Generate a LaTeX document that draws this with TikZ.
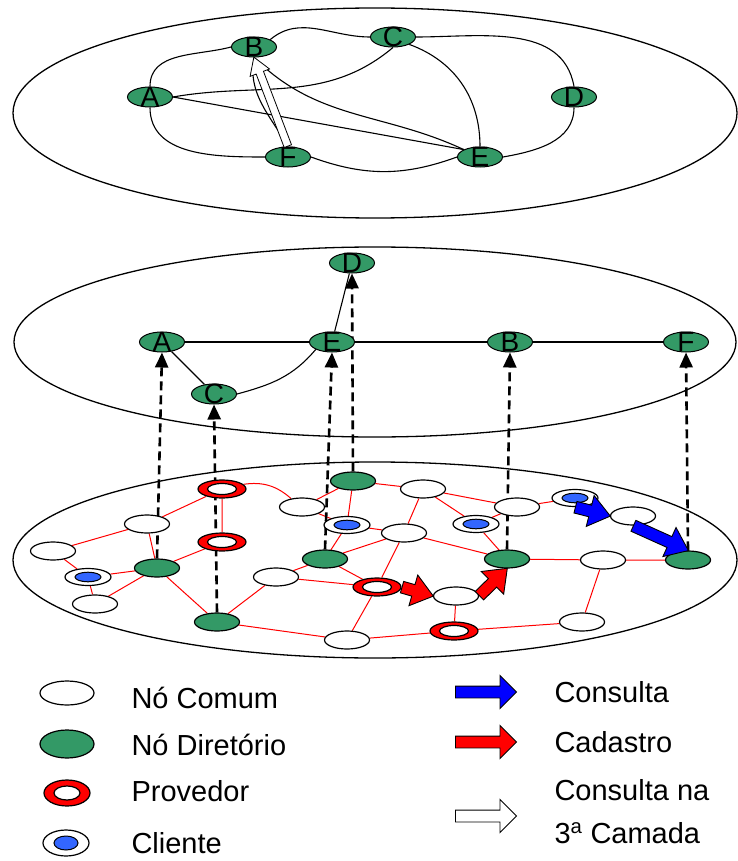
\documentclass[tikz,border=0pt]{standalone}
\usepackage{fontspec}
\setmainfont{Liberation Sans}
\usetikzlibrary{shapes.geometric,shapes.arrows,arrows.meta,calc,backgrounds}

\definecolor{dirgreen}{RGB}{51,153,102}
\definecolor{cliblue}{RGB}{51,102,255}

\newcommand{\lbl}[1]{\smash{\raisebox{-0.5\height}{#1}}}
% name, tail, tip, style
\newcommand{\blockarrow}[4]{%
  \path let \p1=($(#3)-(#2)$), \n1={atan2(\y1,\x1)}, \n2={veclen(\x1,\y1)} in
    node (#1) at (#2) [#4, anchor=tail, rotate=\n1, minimum height=\n2] {};}

\begin{document}
\begin{tikzpicture}[x=1pt, y=-1pt,
plane/.style = {draw, line width=1.3pt},
edge/.style = {line width=1.1pt},
link/.style = {red, line width=1pt},
up/.style = {line width=2.6pt, dash pattern=on 9pt off 5pt,
	-{Triangle[length=15pt,width=13pt]}},
dir/.style = {ellipse, draw, line width=1pt, fill=dirgreen,
	minimum width=45, minimum height=20, inner sep=0pt,
	font=\fontsize{28}{28}\selectfont},
common/.style = {ellipse, draw, line width=1.2pt, fill=white,
	minimum width=45, minimum height=18, inner sep=0pt},
dirnode/.style = {common, fill=dirgreen},
hole/.style = {path picture={\draw[fill=white, line width=1.2pt]
	(path picture bounding box.center) ellipse (#1);}},
dot/.style = {path picture={\draw[fill=cliblue, line width=1pt]
	(path picture bounding box.center) ellipse (#1);}},
provider/.style = {common, fill=red, minimum width=48, hole={14.5pt and 5.5pt}},
client/.style = {common, minimum width=46, minimum height=17, dot={13pt and 4.8pt}},
regarrow/.style = {single arrow, draw, line width=0.9pt, fill=red,
	inner sep=5.5pt, single arrow head extend=10pt, single arrow tip angle=75},
conarrow/.style = {regarrow, fill=blue},
thirdarrow/.style = {single arrow, draw, line width=0.8pt, fill=white,
	inner sep=3.5pt, single arrow head extend=6.5pt, single arrow tip angle=64},
keyarrow/.style = {single arrow, draw, line width=0.9pt,
	inner sep=5.5pt, single arrow head extend=10.5pt, single arrow tip angle=90},
keytext/.style = {anchor=base west, font=\fontsize{29}{35}\selectfont}]

\useasboundingbox (0,0) rectangle (738,861);

\draw[plane] (375,113) ellipse (362 and 105);
\node (tA) at (150,97) [dir] {\lbl{A}};
\node (tB) at (254,47) [dir] {\lbl{B}};
\node (tC) at (393,37) [dir] {\lbl{C}};
\node (tD) at (574,97) [dir] {\lbl{D}};
\node (tE) at (480,157) [dir] {\lbl{E}};
\node (tF) at (288,157) [dir] {\lbl{F}};

\draw[plane] (375,342) ellipse (361 and 95);
\node (mD) at (352,263) [dir] {\lbl{D}};
\node (mA) at (162,342) [dir] {\lbl{A}};
\node (mE) at (332,342) [dir] {\lbl{E}};
\node (mB) at (510,342) [dir] {\lbl{B}};
\node (mF) at (686,342) [dir] {\lbl{F}};
\node (mC) at (214,394) [dir] {\lbl{C}};

\draw[plane] (375,560) ellipse (362 and 98);
\node (c1) at (147,524) [common] {};
\node (c2) at (53,551) [common] {};
\node (c3) at (95,604) [common] {};
\node (c4) at (302,507) [common] {};
\node (c5) at (276,577) [common] {};
\node (c6) at (423,489) [common] {};
\node (c7) at (404,533) [common] {};
\node (c8) at (347,640) [common] {};
\node (c9) at (517,507) [common] {};
\node (c10) at (456,596) [common] {};
\node (c11) at (633,516) [common] {};
\node (c12) at (603,560) [common] {};
\node (c13) at (582,622) [common] {};
\node (d1) at (157,568) [dirnode] {};
\node (d2) at (217,622) [dirnode] {};
\node (d3) at (353,481) [dirnode] {};
\node (d4) at (325,559) [dirnode] {};
\node (d5) at (507,559) [dirnode] {};
\node (d6) at (688,560) [dirnode] {};
\node (p1) at (222,489) [provider] {};
\node (p2) at (222,542) [provider] {};
\node (p3) at (377,587) [provider] {};
\node (p4) at (454,631) [provider] {};
\node (k1) at (88,577) [client] {};
\node (k2) at (476,524) [client] {};
\node (k3) at (575,498) [client] {};
\node (k4) at (347,525) [client] {};

\begin{pgfonlayer}{background}
\draw[edge] (tA.north) to[out=90,in=195] (tB.west);
\draw[edge] (tB.north east) to[out=40,in=180] (tC.west);
\draw[edge] (tC.east) to[out=0,in=100] (tD.north);
\draw[edge] (tD.south) to[out=-90,in=10] (tE.east);
\draw[edge] (tE.west) to[out=200,in=-20] (tF.east);
\draw[edge] (tF.west) to[out=180,in=-90] (tA.south);
\draw[edge] (tA.east) to[out=10,in=-140] (tC.south);
\draw[edge] (tA.east) -- (tE.north west);
\draw[edge] (tC.south east) to[out=-20,in=90] (tE.north);
\draw[edge] (tB.south) to[out=-45,in=155] (tE.north west);
\draw[edge] (tB.south) to[out=-100,in=120] (tF.north);

\draw[edge] (mA) -- (mE) -- (mB) -- (mF);
\draw[edge] (mE) -- (mD);
\draw[edge] (mA) -- (mC);
\draw[edge] (mC.east) to[out=15,in=-130] (mE.south west);

\draw[link] (c2) -- (c1) (c2) -- (k1) (k1) -- (c3) (k1) -- (d1)
	(c3) -- (d1) (c1) -- (d1) (c1) -- (p1) (d1) -- (p2) (d1) -- (d2)
	(p1) -- (p2) (d2) -- (c5) (d2) -- (c8) (p1) to[bend left=25] (c4)
	(c4) -- (d3) (c4) -- (k4) (d3) -- (k4) (d3) -- (c6) (k4) -- (c7)
	(k4) -- (d4) (c6) -- (c7) (c6) -- (k2) (c6) -- (c9) (d4) -- (c7)
	(d4) -- (c5) (d4) -- (p3) (c5) -- (p3) (c7) -- (p3) (p3) -- (c8)
	(c8) -- (p4) (c7) -- (d5) (k2) -- (c9) (k2) -- (d5) (c9) -- (k3)
	(d5) -- (c12) (c12) -- (d6) (c12) -- (c13) (c13) -- (p4) (c10) -- (p4);

\draw[up] (d1.north) -- (mA.south);
\draw[up] (d2.north) -- (mC.south);
\draw[up] (d3.north) -- (mD.south);
\draw[up] (d4.north) -- (mE.south);
\draw[up] (d5.north) -- (mB.south);
\draw[up] (d6.north) -- (mF.south);
\end{pgfonlayer}

\blockarrow{rg1}{p3.east}{c10.west}{regarrow}
\blockarrow{rg2}{c10.east}{d5.south}{regarrow}
\blockarrow{cs1}{k3.south}{c11.west}{conarrow}
\blockarrow{cs2}{c11.south}{d6.north}{conarrow}
\blockarrow{th}{tF.north}{tB.south}{thirdarrow}

\node (lcom) at (67,693) [common, minimum width=54, minimum height=24] {};
\node (ldir) at (67,744) [dirnode, minimum width=54, minimum height=28] {};
\node (lpro) at (67,793) [provider, minimum width=46, minimum height=26, hole={13pt and 7pt}] {};
\node (lcli) at (66,843) [client, minimum width=46, minimum height=26, dot={12pt and 7pt}] {};
\node (tcom) at (128,708) [keytext] {Nó Comum};
\node (tdir) at (128,755) [keytext] {Nó Diretório};
\node (tpro) at (128,801) [keytext] {Provedor};
\node (tcli) at (128,853) [keytext] {Cliente};

\coordinate (ka1) at (455,692);
\coordinate (kb1) at (516,692);
\coordinate (ka2) at (455,742);
\coordinate (kb2) at (516,742);
\coordinate (ka3) at (455,816);
\coordinate (kb3) at (516,816);
\blockarrow{key1}{ka1}{kb1}{keyarrow, fill=blue}
\blockarrow{key2}{ka2}{kb2}{keyarrow, fill=red}
\blockarrow{key3}{ka3}{kb3}{keyarrow, fill=white}
\node (tcon) at (551,702) [keytext] {Consulta};
\node (tcad) at (551,752) [keytext] {Cadastro};
\node (tna) at (551,800) [keytext] {Consulta na};
\node (tcam) at (551,843) [keytext] {3\textsuperscript{a} Camada};
\end{tikzpicture}
\end{document}
